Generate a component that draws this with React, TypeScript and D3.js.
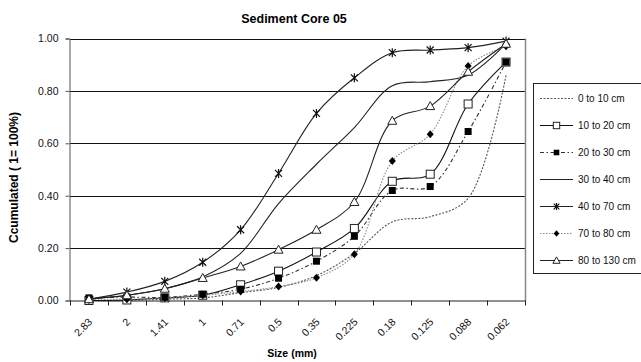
import * as d3 from "d3";
import { useEffect, useRef } from "react";

const sizes = ["2.83", "2", "1.41", "1", "0.71", "0.5", "0.35", "0.225", "0.18", "0.125", "0.088", "0.062"];
const yTicks = [0, 0.2, 0.4, 0.6, 0.8, 1.0];

const s0to10 = [0.0, 0.0, 0.005, 0.01, 0.03, 0.05, 0.095, 0.18, 0.3, 0.32, 0.39, 0.86];
const s10to20 = [0.0, 0.002, 0.01, 0.02, 0.06, 0.112, 0.185, 0.275, 0.455, 0.482, 0.75, 0.91];
const s20to30 = [0.01, 0.013, 0.012, 0.024, 0.043, 0.085, 0.15, 0.245, 0.42, 0.435, 0.645, 0.91];
const s30to40 = [0.005, 0.02, 0.045, 0.09, 0.18, 0.37, 0.52, 0.66, 0.82, 0.835, 0.86, 0.98];
const s40to70 = [0.005, 0.032, 0.073, 0.146, 0.27, 0.485, 0.714, 0.85, 0.946, 0.956, 0.965, 0.99];
const s70to80 = [0.005, 0.005, 0.01, 0.02, 0.034, 0.053, 0.087, 0.177, 0.532, 0.635, 0.895, 0.97];
const s80to130 = [0.005, 0.02, 0.045, 0.086, 0.13, 0.194, 0.27, 0.376, 0.686, 0.742, 0.873, 0.98];

type Marker = "none" | "openSquare" | "filledSquare" | "star" | "diamond" | "triangle";

type Series = {
  name: string;
  values: number[];
  color: string;
  dash: string | null;
  marker: Marker;
};

const series: Series[] = [
  { name: "0 to 10 cm", values: s0to10, color: "#555", dash: "2,1.5", marker: "none" },
  { name: "10 to 20 cm", values: s10to20, color: "#111", dash: null, marker: "openSquare" },
  { name: "20 to 30 cm", values: s20to30, color: "#333", dash: "4,2.5,1.5,2.5", marker: "filledSquare" },
  { name: "30 to 40 cm", values: s30to40, color: "#222", dash: null, marker: "none" },
  { name: "40 to 70 cm", values: s40to70, color: "#222", dash: null, marker: "star" },
  { name: "70 to 80 cm", values: s70to80, color: "#888", dash: "1.5,1.5", marker: "diamond" },
  { name: "80 to 130 cm", values: s80to130, color: "#222", dash: null, marker: "triangle" },
];

const FONT = "'Liberation Sans', Arial, sans-serif";

const drawMarker = (
  g: d3.Selection<SVGGElement, unknown, null, undefined>,
  kind: Marker,
  cx: number,
  cy: number,
  k = 1
) => {
  if (kind === "openSquare") {
    g.append("rect")
      .attr("x", cx - 4 * k)
      .attr("y", cy - 4 * k)
      .attr("width", 8 * k)
      .attr("height", 8 * k)
      .attr("fill", "#fff")
      .attr("stroke", "#222")
      .attr("stroke-width", 1);
  } else if (kind === "filledSquare") {
    g.append("rect")
      .attr("x", cx - 3.5 * k)
      .attr("y", cy - 3.5 * k)
      .attr("width", 7 * k)
      .attr("height", 7 * k)
      .attr("fill", "#000");
  } else if (kind === "diamond") {
    g.append("path")
      .attr("d", `M${cx},${cy - 4 * k}L${cx + 3.5 * k},${cy}L${cx},${cy + 4 * k}L${cx - 3.5 * k},${cy}Z`)
      .attr("fill", "#000");
  } else if (kind === "triangle") {
    g.append("path")
      .attr("d", `M${cx},${cy - 4.5 * k}L${cx + 4.5 * k},${cy + 3.5 * k}L${cx - 4.5 * k},${cy + 3.5 * k}Z`)
      .attr("fill", "#fff")
      .attr("stroke", "#222")
      .attr("stroke-width", 1);
  } else if (kind === "star") {
    const a = 3.5 * k;
    const b = 4.5 * k;
    g.append("path")
      .attr(
        "d",
        `M${cx - a},${cy - a}L${cx + a},${cy + a}M${cx - a},${cy + a}L${cx + a},${cy - a}M${cx},${cy - b}L${cx},${cy + b}`
      )
      .attr("fill", "none")
      .attr("stroke", "#111")
      .attr("stroke-width", 1.2);
  }
};

const SedimentChart: React.FC = () => {
  const chartRef = useRef<SVGSVGElement | null>(null);

  useEffect(() => {
    if (!chartRef.current) return;
    const svg = d3.select(chartRef.current);
    svg.selectAll("*").remove();

    const width = 641;
    const height = 362;
    const plot = { left: 70, right: 525, top: 38.5, bottom: 300.5 };

    svg.attr("width", width).attr("height", height);

    svg.append("rect").attr("width", width).attr("height", height).attr("fill", "#fff");

    const x = d3.scaleBand<string>().domain(sizes).range([plot.left, plot.right]).padding(0);
    const y = d3.scaleLinear().domain([0, 1]).range([plot.bottom, plot.top]);
    const cx = (d: string) => x(d)! + x.bandwidth() / 2;

    // title
    svg
      .append("text")
      .attr("x", 294)
      .attr("y", 23)
      .attr("text-anchor", "middle")
      .attr("font-family", FONT)
      .attr("font-weight", "bold")
      .attr("font-size", 12.5)
      .text("Sediment Core 05");

    // gridlines
    svg
      .append("g")
      .selectAll("line")
      .data(yTicks.filter((t) => t > 0))
      .join("line")
      .attr("x1", plot.left)
      .attr("x2", plot.right)
      .attr("y1", (d) => Math.round(y(d)) + 0.5)
      .attr("y2", (d) => Math.round(y(d)) + 0.5)
      .attr("stroke", "#111")
      .attr("stroke-width", 1);

    // right border of plot area
    svg
      .append("line")
      .attr("x1", plot.right + 0.5)
      .attr("x2", plot.right + 0.5)
      .attr("y1", plot.top)
      .attr("y2", plot.bottom)
      .attr("stroke", "#888")
      .attr("stroke-width", 1.5);

    // y axis
    const yAxis = svg
      .append("g")
      .attr("transform", `translate(${plot.left - 0.5},0)`)
      .call(d3.axisLeft(y).tickValues(yTicks).tickFormat(d3.format(".2f")).tickSize(4).tickPadding(7));
    yAxis.select(".domain").attr("stroke", "#555");
    yAxis.selectAll(".tick line").attr("stroke", "#555");
    yAxis
      .selectAll("text")
      .attr("font-family", FONT)
      .attr("font-size", 10.5)
      .attr("fill", "#111");

    // x axis
    const xAxis = svg.append("g");
    xAxis
      .append("line")
      .attr("x1", plot.left)
      .attr("x2", plot.right + 1)
      .attr("y1", plot.bottom + 0.5)
      .attr("y2", plot.bottom + 0.5)
      .attr("stroke", "#222");
    const boundaries = [...sizes.map((d) => x(d)!), plot.right];
    xAxis
      .selectAll("line.tick")
      .data(boundaries)
      .join("line")
      .attr("class", "tick")
      .attr("x1", (d) => Math.round(d) + 0.5)
      .attr("x2", (d) => Math.round(d) + 0.5)
      .attr("y1", plot.bottom)
      .attr("y2", plot.bottom + 5)
      .attr("stroke", "#222");
    xAxis
      .selectAll("text")
      .data(sizes)
      .join("text")
      .attr("transform", (d) => `translate(${cx(d) + 4},${plot.bottom + 22}) rotate(-45)`)
      .attr("text-anchor", "end")
      .attr("font-family", FONT)
      .attr("font-size", 10.5)
      .attr("fill", "#111")
      .text((d) => d);

    // axis titles
    svg
      .append("text")
      .attr("x", 292)
      .attr("y", 357)
      .attr("text-anchor", "middle")
      .attr("font-family", FONT)
      .attr("font-weight", "bold")
      .attr("font-size", 10.5)
      .text("Size (mm)");

    svg
      .append("text")
      .attr("transform", `translate(18,${(plot.top + plot.bottom) / 2 + 8}) rotate(-90)`)
      .attr("text-anchor", "middle")
      .attr("font-family", FONT)
      .attr("font-weight", "bold")
      .attr("font-size", 12)
      .text("Ccumulated ( 1= 100%)");

    // series
    const line = d3
      .line<number>()
      .x((_, i) => cx(sizes[i]))
      .y((d) => y(d))
      .curve(d3.curveCatmullRom.alpha(0.5));

    const seriesG = svg.append("g");
    series.forEach((s) => {
      const g = seriesG.append("g");
      g.append("path")
        .datum(s.values)
        .attr("fill", "none")
        .attr("stroke", s.color)
        .attr("stroke-width", 1.1)
        .attr("stroke-dasharray", s.dash)
        .attr("d", line);
      s.values.forEach((v, i) => drawMarker(g, s.marker, cx(sizes[i]), y(v)));
    });

    // legend
    const legend = svg.append("g");
    legend
      .append("rect")
      .attr("x", 533.5)
      .attr("y", 83.5)
      .attr("width", 120)
      .attr("height", 190)
      .attr("fill", "#fff")
      .attr("stroke", "#222")
      .attr("stroke-width", 1);
    series.forEach((s, i) => {
      const ly = 98.5 + i * 27;
      const g = legend.append("g");
      g.append("line")
        .attr("x1", 540)
        .attr("x2", 573)
        .attr("y1", ly)
        .attr("y2", ly)
        .attr("stroke", s.color)
        .attr("stroke-width", 1.1)
        .attr("stroke-dasharray", s.dash);
      drawMarker(g, s.marker, 556.5, ly, 0.8);
      g.append("text")
        .attr("x", 578)
        .attr("y", ly + 3.5)
        .attr("font-family", FONT)
        .attr("font-size", 10)
        .attr("fill", "#111")
        .text(s.name);
    });
  }, []);

  return <svg ref={chartRef} style={{ position: "absolute", left: 0, top: 0 }}></svg>;
};

export default function App() {
  return <SedimentChart />;
}
